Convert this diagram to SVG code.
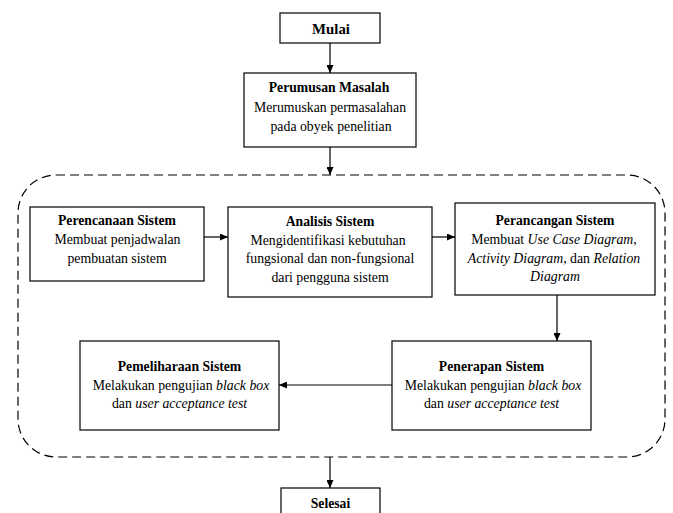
<svg xmlns="http://www.w3.org/2000/svg" width="673" height="513" viewBox="0 0 673 513">
<defs>
<marker id="ah" markerWidth="8" markerHeight="7" refX="8" refY="3.5" orient="auto" markerUnits="userSpaceOnUse">
<path d="M0,0 L8,3.5 L0,7 Z" fill="#000"/>
</marker>
<style>
.box{fill:#fff;stroke:#000;stroke-width:1.2}
.t{font-family:"Liberation Serif","Times New Roman",serif;font-size:13.8px;fill:#000;text-anchor:middle}
.b{font-weight:bold;font-size:13.7px}
.i{font-style:italic}
.c{stroke:#000;stroke-width:1.2;fill:none;marker-end:url(#ah)}
.d{fill:none;stroke:#000;stroke-width:1.2;stroke-dasharray:9 5}
</style>
</defs>
<rect width="673" height="513" fill="#fff"/>
<rect id="container" class="d" x="18" y="175" width="647" height="282" rx="38" ry="38"/>
<g id="connectors">
<line class="c" x1="330" y1="43" x2="330" y2="73"/>
<line class="c" x1="330" y1="147" x2="330" y2="175"/>
<line class="c" x1="204" y1="237" x2="228" y2="237"/>
<line class="c" x1="432" y1="237" x2="455" y2="237"/>
<line class="c" x1="557" y1="295" x2="557" y2="341"/>
<line class="c" x1="392" y1="385" x2="279" y2="385"/>
<line class="c" x1="330" y1="457" x2="330" y2="488"/>
</g>
<g id="mulai">
<rect class="box" x="280" y="13" width="100" height="30"/>
<text class="t b" x="331" y="34" style="font-size:14.8px">Mulai</text>
</g>
<g id="perumusan">
<rect class="box" x="244" y="73" width="172" height="74"/>
<text class="t b" x="329" y="92">Perumusan Masalah</text>
<text class="t" x="330" y="111.5">Merumuskan permasalahan</text>
<text class="t" x="331" y="131">pada obyek penelitian</text>
</g>
<g id="perencanaan">
<rect class="box" x="30" y="207" width="174" height="74"/>
<text class="t b" x="117" y="225">Perencanaan Sistem</text>
<text class="t" x="117.5" y="244">Membuat penjadwalan</text>
<text class="t" x="117" y="263">pembuatan sistem</text>
</g>
<g id="analisis">
<rect class="box" x="228" y="207" width="204" height="90"/>
<text class="t b" x="330" y="226">Analisis Sistem</text>
<text class="t" x="328" y="244.5">Mengidentifikasi kebutuhan</text>
<text class="t" x="330" y="263">fungsional dan non-fungsional</text>
<text class="t" x="330" y="281.5">dari pengguna sistem</text>
</g>
<g id="perancangan">
<rect class="box" x="455" y="203" width="200" height="92"/>
<text class="t b" x="555" y="225">Perancangan Sistem</text>
<text class="t" x="554" y="244">Membuat <tspan class="i">Use Case Diagram</tspan>,</text>
<text class="t" x="554" y="262.5"><tspan class="i">Activity Diagram</tspan>, dan <tspan class="i">Relation</tspan></text>
<text class="t i" x="555" y="281">Diagram</text>
</g>
<g id="penerapan">
<rect class="box" x="392" y="341" width="199" height="89"/>
<text class="t b" x="491.5" y="371">Penerapan Sistem</text>
<text class="t" x="493" y="389.5">Melakukan pengujian <tspan class="i">black box</tspan></text>
<text class="t" x="491.5" y="408">dan <tspan class="i">user acceptance test</tspan></text>
</g>
<g id="pemeliharaan">
<rect class="box" x="80" y="341" width="199" height="89"/>
<text class="t b" x="179.5" y="371">Pemeliharaan Sistem</text>
<text class="t" x="181" y="389.5">Melakukan pengujian <tspan class="i">black box</tspan></text>
<text class="t" x="179.5" y="408">dan <tspan class="i">user acceptance test</tspan></text>
</g>
<g id="selesai">
<rect class="box" x="281" y="488" width="99" height="40"/>
<text class="t b" x="330.5" y="508">Selesai</text>
</g>
</svg>
